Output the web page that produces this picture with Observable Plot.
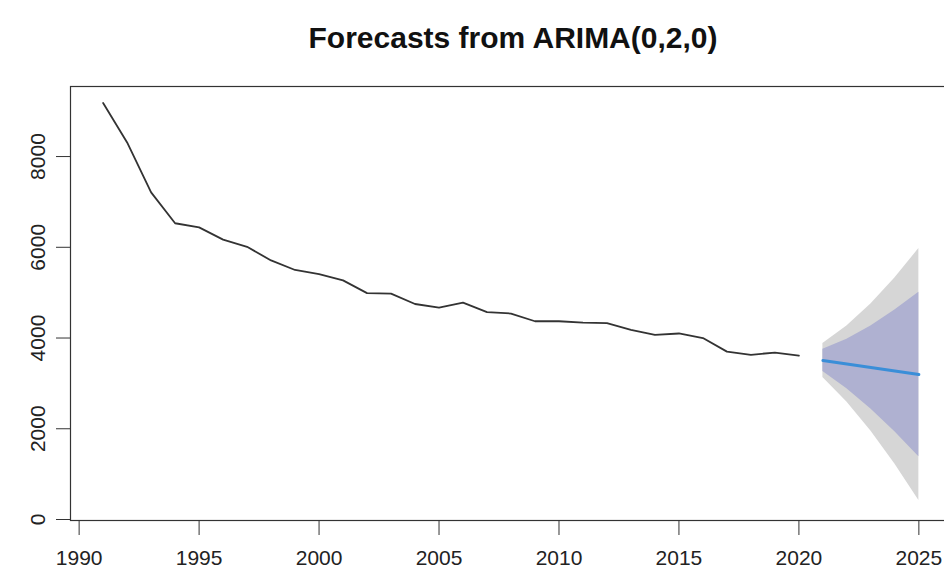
<!DOCTYPE html>
<html>
<head>
<meta charset="utf-8">
<script src="https://cdn.jsdelivr.net/npm/d3@7"></script>
<script src="https://cdn.jsdelivr.net/npm/@observablehq/plot@0.6"></script>
<style>
  html, body { margin: 0; padding: 0; background: #fff; }
  #title { width: 944px; height: 60px; position: relative; font-family: "Liberation Sans", Arial, sans-serif; }
  #title span { position: absolute; left: 513px; top: 38px; transform: translate(-50%, -50%); font-weight: bold; font-size: 30px; color: #111; white-space: nowrap; }
</style>
</head>
<body>
<div id="title"><span>Forecasts from ARIMA(0,2,0)</span></div>
<div id="chart"></div>
<script>
// Observed series
const years = [1991,1992,1993,1994,1995,1996,1997,1998,1999,2000,2001,2002,2003,2004,2005,2006,2007,2008,2009,2010,2011,2012,2013,2014,2015,2016,2017,2018,2019,2020];
const values = [9180,8310,7210,6530,6440,6170,6010,5710,5500,5410,5270,4990,4980,4750,4670,4780,4570,4540,4370,4370,4340,4330,4180,4070,4100,4000,3700,3630,3680,3610];

// Forecast
const fYears = [2021,2022,2023,2024,2025];
const fMean = [3505,3428,3351,3274,3196];
const lo80 = [3260,2881,2435,1933,1381];
const hi80 = [3750,3975,4267,4615,5011];
const lo95 = [3131,2591,1950,1224,420];
const hi95 = [3879,4265,4752,5324,5972];

const xTicks = [1990,1995,2000,2005,2010,2015,2020,2025];
const yTicks = [0,2000,4000,6000,8000];

const hist = years.map((y, i) => ({year: y, value: values[i]}));
const fc = fYears.map((y, i) => ({year: y, mean: fMean[i], lo80: lo80[i], hi80: hi80[i], lo95: lo95[i], hi95: hi95[i]}));

const chart = Plot.plot({
  width: 944,
  height: 517,
  marginTop: 26,
  marginBottom: 57,
  marginLeft: 70,
  marginRight: -7,
  style: {fontFamily: "'Liberation Sans', Arial, sans-serif", fontSize: "21px", color: "#222", background: "#fff"},
  x: {domain: [1989.64, 2026.36]},
  y: {domain: [-22, 9544]},
  marks: [
    Plot.areaY(fc, {x: "year", y1: "lo95", y2: "hi95", fill: "#d6d6d6"}),
    Plot.areaY(fc, {x: "year", y1: "lo80", y2: "hi80", fill: "#afb1d1"}),
    Plot.line(hist, {x: "year", y: "value", stroke: "#333", strokeWidth: 1.8, strokeLinejoin: "round"}),
    Plot.line(fc, {x: "year", y: "mean", stroke: "#3a8ed8", strokeWidth: 3}),
    Plot.frame({stroke: "#333", strokeWidth: 1.2}),
    Plot.axisX({ticks: xTicks, tickFormat: d => String(d), tickSize: 15, tickPadding: 15, label: null, stroke: "#333"}),
    Plot.axisY({ticks: yTicks, tickFormat: d => String(d), tickSize: 14, tickPadding: 12, tickRotate: -90, label: null, stroke: "#333"})
  ]
});
document.getElementById("chart").appendChild(chart);
</script>
</body>
</html>
